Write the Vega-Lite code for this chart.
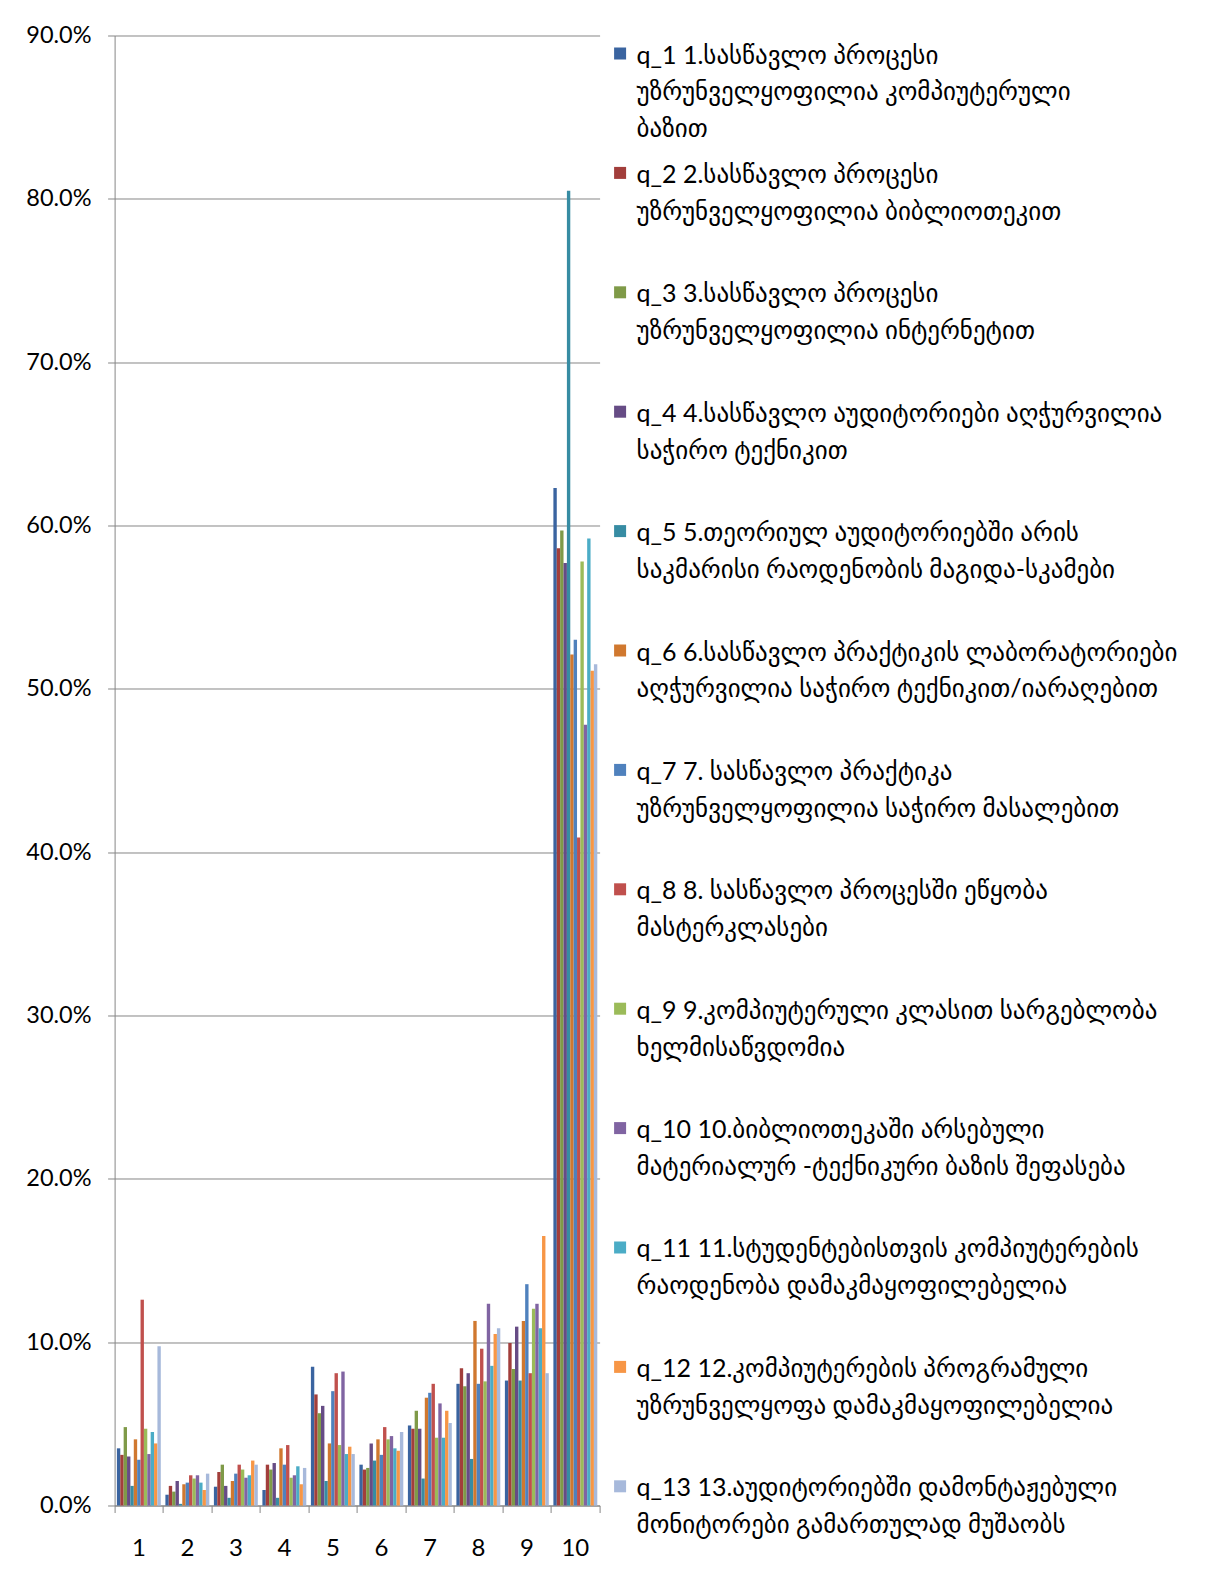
{
  "$schema": "https://vega.github.io/schema/vega-lite/v6.json",
  "width": 485,
  "height": 1470,
  "autosize": {"type": "none"},
  "padding": {"left": 114.6, "top": 35.5, "right": 613, "bottom": 84},
  "background": "white",
  "config": {
    "view": {"stroke": null},
    "font": "Lato, DejaVu Sans"
  },
  "datasets": {
    "names": [
      {"s": 1, "name": "q_1 1.სასწავლო პროცესი|უზრუნველყოფილია კომპიუტერული|ბაზით"},
      {"s": 2, "name": "q_2 2.სასწავლო პროცესი|უზრუნველყოფილია ბიბლიოთეკით"},
      {"s": 3, "name": "q_3 3.სასწავლო პროცესი|უზრუნველყოფილია ინტერნეტით"},
      {"s": 4, "name": "q_4 4.სასწავლო აუდიტორიები  აღჭურვილია|საჭირო ტექნიკით"},
      {"s": 5, "name": "q_5 5.თეორიულ აუდიტორიებში  არის|საკმარისი რაოდენობის მაგიდა-სკამები"},
      {"s": 6, "name": "q_6 6.სასწავლო პრაქტიკის ლაბორატორიები|აღჭურვილია საჭირო ტექნიკით/იარაღებით"},
      {"s": 7, "name": "q_7 7. სასწავლო პრაქტიკა|უზრუნველყოფილია საჭირო მასალებით"},
      {"s": 8, "name": "q_8 8. სასწავლო პროცესში ეწყობა|მასტერკლასები"},
      {"s": 9, "name": "q_9 9.კომპიუტერული  კლასით სარგებლობა|ხელმისაწვდომია"},
      {"s": 10, "name": "q_10 10.ბიბლიოთეკაში არსებული|მატერიალურ -ტექნიკური ბაზის შეფასება"},
      {"s": 11, "name": "q_11 11.სტუდენტებისთვის  კომპიუტერების|რაოდენობა დამაკმაყოფილებელია"},
      {"s": 12, "name": "q_12 12.კომპიუტერების  პროგრამული|უზრუნველყოფა დამაკმაყოფილებელია"},
      {"s": 13, "name": "q_13 13.აუდიტორიებში  დამონტაჟებული|მონიტორები გამართულად  მუშაობს"}
    ]
  },
  "data": {
    "values": [
      {"g": 1, "s": 1, "v": 0.035}, {"g": 1, "s": 2, "v": 0.031}, {"g": 1, "s": 3, "v": 0.048}, {"g": 1, "s": 4, "v": 0.030}, {"g": 1, "s": 5, "v": 0.012}, {"g": 1, "s": 6, "v": 0.0405}, {"g": 1, "s": 7, "v": 0.028}, {"g": 1, "s": 8, "v": 0.126}, {"g": 1, "s": 9, "v": 0.047}, {"g": 1, "s": 10, "v": 0.0315}, {"g": 1, "s": 11, "v": 0.045}, {"g": 1, "s": 12, "v": 0.038}, {"g": 1, "s": 13, "v": 0.0975},
      {"g": 2, "s": 1, "v": 0.0066}, {"g": 2, "s": 2, "v": 0.012}, {"g": 2, "s": 3, "v": 0.0085}, {"g": 2, "s": 4, "v": 0.015}, {"g": 2, "s": 5, "v": 0.001}, {"g": 2, "s": 6, "v": 0.013}, {"g": 2, "s": 7, "v": 0.014}, {"g": 2, "s": 8, "v": 0.0185}, {"g": 2, "s": 9, "v": 0.0165}, {"g": 2, "s": 10, "v": 0.0185}, {"g": 2, "s": 11, "v": 0.014}, {"g": 2, "s": 12, "v": 0.0095}, {"g": 2, "s": 13, "v": 0.0195},
      {"g": 3, "s": 1, "v": 0.0115}, {"g": 3, "s": 2, "v": 0.0205}, {"g": 3, "s": 3, "v": 0.025}, {"g": 3, "s": 4, "v": 0.012}, {"g": 3, "s": 5, "v": 0.0047}, {"g": 3, "s": 6, "v": 0.015}, {"g": 3, "s": 7, "v": 0.0195}, {"g": 3, "s": 8, "v": 0.025}, {"g": 3, "s": 9, "v": 0.022}, {"g": 3, "s": 10, "v": 0.017}, {"g": 3, "s": 11, "v": 0.0185}, {"g": 3, "s": 12, "v": 0.0275}, {"g": 3, "s": 13, "v": 0.025},
      {"g": 4, "s": 1, "v": 0.0095}, {"g": 4, "s": 2, "v": 0.025}, {"g": 4, "s": 3, "v": 0.022}, {"g": 4, "s": 4, "v": 0.026}, {"g": 4, "s": 5, "v": 0.0047}, {"g": 4, "s": 6, "v": 0.035}, {"g": 4, "s": 7, "v": 0.025}, {"g": 4, "s": 8, "v": 0.037}, {"g": 4, "s": 9, "v": 0.017}, {"g": 4, "s": 10, "v": 0.0185}, {"g": 4, "s": 11, "v": 0.024}, {"g": 4, "s": 12, "v": 0.013}, {"g": 4, "s": 13, "v": 0.023},
      {"g": 5, "s": 1, "v": 0.085}, {"g": 5, "s": 2, "v": 0.068}, {"g": 5, "s": 3, "v": 0.0565}, {"g": 5, "s": 4, "v": 0.061}, {"g": 5, "s": 5, "v": 0.015}, {"g": 5, "s": 6, "v": 0.038}, {"g": 5, "s": 7, "v": 0.070}, {"g": 5, "s": 8, "v": 0.081}, {"g": 5, "s": 9, "v": 0.037}, {"g": 5, "s": 10, "v": 0.082}, {"g": 5, "s": 11, "v": 0.0315}, {"g": 5, "s": 12, "v": 0.036}, {"g": 5, "s": 13, "v": 0.0315},
      {"g": 6, "s": 1, "v": 0.025}, {"g": 6, "s": 2, "v": 0.022}, {"g": 6, "s": 3, "v": 0.023}, {"g": 6, "s": 4, "v": 0.038}, {"g": 6, "s": 5, "v": 0.0275}, {"g": 6, "s": 6, "v": 0.0405}, {"g": 6, "s": 7, "v": 0.031}, {"g": 6, "s": 8, "v": 0.048}, {"g": 6, "s": 9, "v": 0.0405}, {"g": 6, "s": 10, "v": 0.0425}, {"g": 6, "s": 11, "v": 0.035}, {"g": 6, "s": 12, "v": 0.0335}, {"g": 6, "s": 13, "v": 0.045},
      {"g": 7, "s": 1, "v": 0.049}, {"g": 7, "s": 2, "v": 0.047}, {"g": 7, "s": 3, "v": 0.058}, {"g": 7, "s": 4, "v": 0.047}, {"g": 7, "s": 5, "v": 0.0165}, {"g": 7, "s": 6, "v": 0.066}, {"g": 7, "s": 7, "v": 0.069}, {"g": 7, "s": 8, "v": 0.0745}, {"g": 7, "s": 9, "v": 0.0415}, {"g": 7, "s": 10, "v": 0.0625}, {"g": 7, "s": 11, "v": 0.0415}, {"g": 7, "s": 12, "v": 0.058}, {"g": 7, "s": 13, "v": 0.0505},
      {"g": 8, "s": 1, "v": 0.0745}, {"g": 8, "s": 2, "v": 0.084}, {"g": 8, "s": 3, "v": 0.073}, {"g": 8, "s": 4, "v": 0.081}, {"g": 8, "s": 5, "v": 0.0285}, {"g": 8, "s": 6, "v": 0.113}, {"g": 8, "s": 7, "v": 0.0745}, {"g": 8, "s": 8, "v": 0.096}, {"g": 8, "s": 9, "v": 0.076}, {"g": 8, "s": 10, "v": 0.1235}, {"g": 8, "s": 11, "v": 0.0855}, {"g": 8, "s": 12, "v": 0.105}, {"g": 8, "s": 13, "v": 0.1085},
      {"g": 9, "s": 1, "v": 0.0765}, {"g": 9, "s": 2, "v": 0.0995}, {"g": 9, "s": 3, "v": 0.0835}, {"g": 9, "s": 4, "v": 0.1095}, {"g": 9, "s": 5, "v": 0.0765}, {"g": 9, "s": 6, "v": 0.113}, {"g": 9, "s": 7, "v": 0.1355}, {"g": 9, "s": 8, "v": 0.081}, {"g": 9, "s": 9, "v": 0.1205}, {"g": 9, "s": 10, "v": 0.1235}, {"g": 9, "s": 11, "v": 0.1085}, {"g": 9, "s": 12, "v": 0.165}, {"g": 9, "s": 13, "v": 0.081},
      {"g": 10, "s": 1, "v": 0.623}, {"g": 10, "s": 2, "v": 0.586}, {"g": 10, "s": 3, "v": 0.597}, {"g": 10, "s": 4, "v": 0.577}, {"g": 10, "s": 5, "v": 0.805}, {"g": 10, "s": 6, "v": 0.521}, {"g": 10, "s": 7, "v": 0.530}, {"g": 10, "s": 8, "v": 0.409}, {"g": 10, "s": 9, "v": 0.578}, {"g": 10, "s": 10, "v": 0.478}, {"g": 10, "s": 11, "v": 0.592}, {"g": 10, "s": 12, "v": 0.511}, {"g": 10, "s": 13, "v": 0.515}
    ]
  },
  "transform": [
    {"lookup": "s", "from": {"data": {"name": "names"}, "key": "s", "fields": ["name"]}}
  ],
  "mark": {"type": "bar"},
  "encoding": {
    "x": {
      "field": "g",
      "type": "ordinal",
      "scale": {"paddingInner": 0, "paddingOuter": 0},
      "axis": {
        "title": null,
        "labelAngle": 0,
        "bandPosition": 1,
        "tickExtra": true,
        "labelOffset": 0,
        "tickSize": 7,
        "tickColor": "#868686",
        "domainColor": "#868686",
        "labelPadding": 24,
        "labelFontSize": 24,
        "labelFont": "Lato",
        "labelColor": "#000000"
      }
    },
    "xOffset": {
      "field": "s",
      "type": "ordinal",
      "scale": {"paddingInner": 0, "paddingOuter": 0.68}
    },
    "y": {
      "field": "v",
      "type": "quantitative",
      "scale": {"domain": [0, 0.9], "nice": false},
      "axis": {
        "title": null,
        "format": ".1%",
        "values": [0, 0.1, 0.2, 0.3, 0.4, 0.5, 0.6, 0.7, 0.8, 0.9],
        "tickSize": 7,
        "tickColor": "#868686",
        "domainColor": "#868686",
        "gridColor": "#868686",
        "gridOpacity": 1,
        "labelPadding": 16.6,
        "labelFontSize": 23.5,
        "labelFont": "Lato",
        "labelColor": "#000000"
      }
    },
    "color": {
      "field": "name",
      "type": "nominal",
      "sort": {"field": "s", "op": "min"},
      "scale": {
        "range": ["#3A64A0", "#A23E3B", "#7F9A48", "#664C85", "#378CA3", "#D0782F", "#4F81BD", "#C0504D", "#9BBB59", "#8064A2", "#4BACC6", "#F79646", "#A7B9DB"]
      },
      "legend": {
        "title": null,
        "orient": "none",
        "legendX": 493,
        "legendY": 5.5,
        "padding": 0,
        "gridAlign": "all",
        "rowPadding": 17.4,
        "symbolType": "square",
        "symbolSize": 144,
        "symbolStrokeWidth": 0,
        "symbolOffset": 0,
        "labelOffset": 4,
        "labelFontSize": 25,
        "labelFont": "Lato, DejaVu Sans",
        "labelColor": "#000000",
        "labelLimit": 700,
        "labelBaseline": "alphabetic",
        "labelExpr": "split(datum.label, '|')",
        "encode": {
          "labels": {"update": {"dy": {"value": 10}, "lineHeight": {"value": 37}}}
        }
      }
    }
  }
}
